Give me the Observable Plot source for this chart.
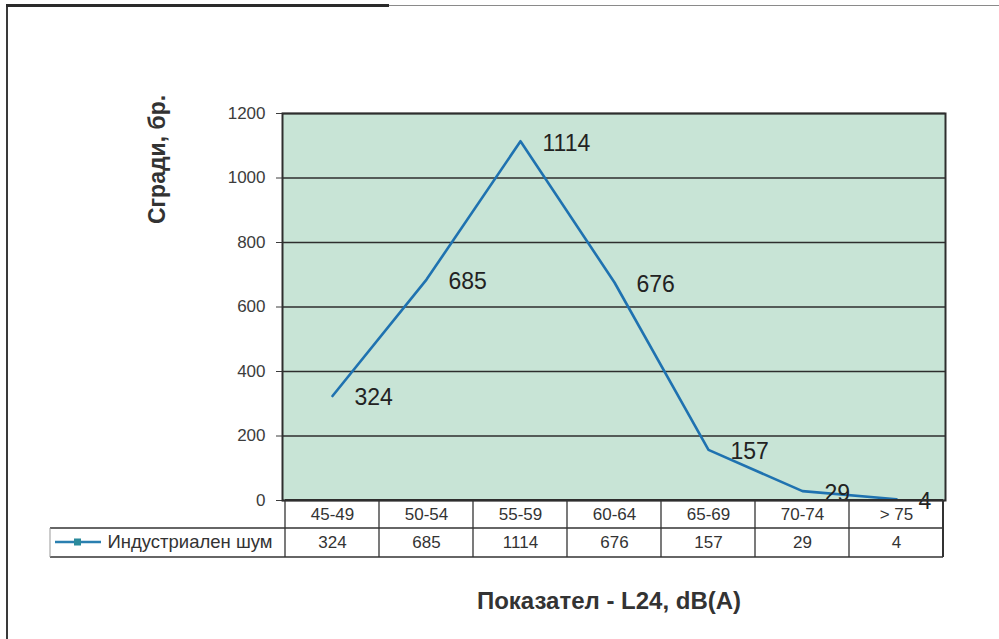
<!DOCTYPE html>
<html><head><meta charset="utf-8">
<script src="https://cdn.jsdelivr.net/npm/d3@7"></script>
<script src="https://cdn.jsdelivr.net/npm/@observablehq/plot@0.6"></script>
<style>
html,body{margin:0;padding:0;background:#fff;}
#wrap{position:relative;width:999px;height:639px;overflow:hidden;font-family:"Liberation Sans",Arial,sans-serif;background:#fff;}
#chart{position:absolute;left:0;top:0;}
.deco{position:absolute;}
</style></head><body>
<div id="wrap">
  <div id="chart"></div>
  <div class="deco" style="left:6px;top:5px;width:2px;height:634px;background:#3a3a3a;"></div>
  <div class="deco" style="left:6px;top:4px;width:383px;height:3px;background:#2a2a2a;"></div>
  <div class="deco" style="left:389px;top:5px;width:610px;height:1px;background:#8a8a8a;"></div>
</div>
<script>
const categories = ["45-49", "50-54", "55-59", "60-64", "65-69", "70-74", "> 75"];
const values = [324, 685, 1114, 676, 157, 29, 4];
const seriesName = "Индустриален шум";
const yTicks = [0, 200, 400, 600, 800, 1000, 1200];
const yTitle = "Сгради, бр.";
const xTitle = "Показател - L24, dB(A)";

const data = categories.map((c, i) => ({c, v: values[i]}));

const W = 999, H = 639, mL = 282, mR = 54, mT = 113, mB = 139;
const font = "'Liberation Sans', Arial, sans-serif";

const plot = Plot.plot({
  width: W, height: H,
  marginLeft: mL, marginRight: mR, marginTop: mT, marginBottom: mB,
  style: {fontFamily: font, fontSize: "17px", color: "#3c3c3c", background: "transparent", overflow: "visible"},
  x: {type: "point", domain: categories, padding: 0.5, axis: null},
  y: {domain: [0, 1200], ticks: yTicks, tickSize: 6, tickPadding: 11, label: null, tickFormat: d => String(d)},
  marks: [
    Plot.frame({fill: "#c8e4d6"}),
    Plot.ruleY(yTicks, {stroke: "#2e2e2e", strokeWidth: 1.3}),
    Plot.frame({stroke: "#2e2e2e", strokeWidth: 2}),
    Plot.line(data, {x: "c", y: "v", stroke: "#1f72b0", strokeWidth: 2.6}),
    Plot.text(data, {x: "c", y: "v", text: d => String(d.v), dx: 22, dy: 2, textAnchor: "start", lineAnchor: "middle", fontSize: 23, fill: "#222"}),
    Plot.text(categories, {x: d => d, frameAnchor: "bottom", dy: 14, lineAnchor: "middle", textAnchor: "middle", fontSize: 17, fill: "#333"}),
    Plot.text(data, {x: "c", text: d => String(d.v), frameAnchor: "bottom", dy: 42, lineAnchor: "middle", textAnchor: "middle", fontSize: 17, fill: "#333"}),
    Plot.text([seriesName], {frameAnchor: "bottom-left", dx: -175, dy: 42, textAnchor: "start", lineAnchor: "middle", fontSize: 18.5, fill: "#333"}),
    Plot.text([yTitle], {frameAnchor: "top-left", dx: -125, dy: 46, rotate: -90, textAnchor: "middle", lineAnchor: "middle", fontWeight: "bold", fontSize: 23, fill: "#333"}),
    Plot.text([xTitle], {frameAnchor: "bottom", dx: -5, dy: 101, textAnchor: "middle", lineAnchor: "middle", fontWeight: "bold", fontSize: 24, fill: "#333"})
  ]
});
document.getElementById("chart").appendChild(plot);

// table grid drawn from the plot's own x scale
const xs = plot.scale("x");
const step = xs.apply(categories[1]) - xs.apply(categories[0]);
const left = xs.apply(categories[0]) - step / 2;
const right = xs.apply(categories[categories.length - 1]) + step / 2;
const y0 = H - mB, y1 = y0 + 28, y2 = y0 + 57;
const svg = d3.select(plot);
const g = svg.append("g").attr("fill", "none");
const seg = (a, b, c, d, col, w) => g.append("line").attr("x1", a).attr("y1", b).attr("x2", c).attr("y2", d)
  .attr("stroke", col || "#333").attr("stroke-width", w || 1.3);
seg(left, y0, right, y0, "#2e2e2e", 2);
seg(50, y1, right, y1);
seg(50, y2, right, y2);
seg(50, y1, 50, y2, "#999", 1);
for (let k = 0; k <= categories.length; k++) {
  const xx = left + k * step;
  seg(xx, y0, xx, y2, "#333", k === categories.length ? 2 : 1.3);
}
// legend key
const ly = y0 + 42;
seg(55, ly, 101, ly, "#2a7fb0", 2.5);
g.append("rect").attr("x", 74).attr("y", ly - 3.5).attr("width", 7).attr("height", 7).attr("fill", "#2b8a9c").attr("stroke", "none");
</script>
</body></html>
